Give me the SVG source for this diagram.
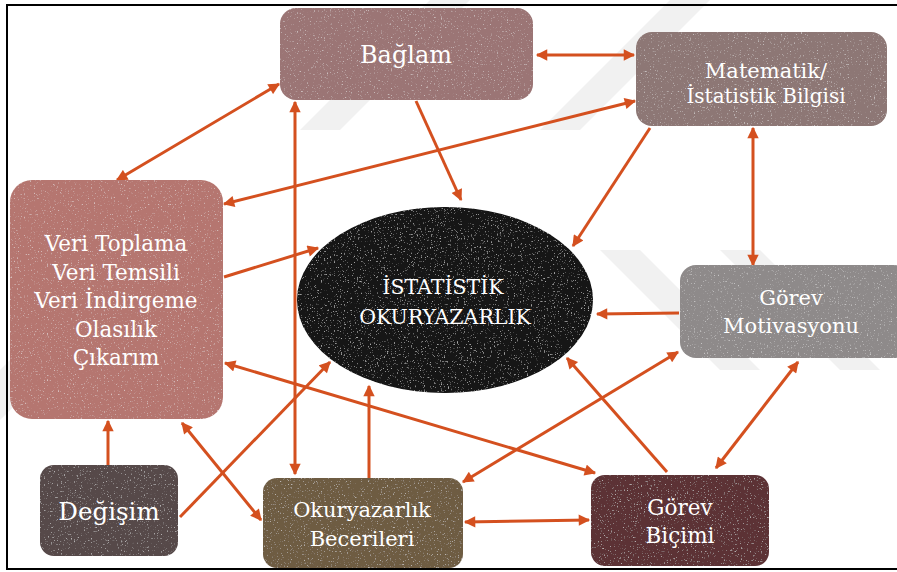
<svg xmlns="http://www.w3.org/2000/svg" width="897" height="572" viewBox="0 0 897 572">
<style>
.lbl{font-family:"DejaVu Serif",serif;fill:#ffffff;text-anchor:middle}
.cn{fill:none;stroke:#d4501f;stroke-width:3}
.wm{fill:#f1f1f1}
</style>
<defs>
<marker id="ah" viewBox="0 0 10 10" refX="9" refY="5" markerWidth="4.3" markerHeight="3.8" orient="auto-start-reverse" markerUnits="strokeWidth">
<path d="M0,0 L10,5 L0,10 z" fill="#d4501f"/>
</marker>
<filter id="tex" x="0" y="0" width="1" height="1">
<feTurbulence type="fractalNoise" baseFrequency="0.7" numOctaves="3" seed="4" result="n"/>
<feColorMatrix in="n" type="matrix" values="0 0 0 0 1  0 0 0 0 1  0 0 0 0 1  5 0 0 0 -3.2" result="sp"/>
<feComposite in="sp" in2="SourceGraphic" operator="in" result="sp2"/>
<feComponentTransfer in="sp2" result="sp3"><feFuncA type="linear" slope="0.4"/></feComponentTransfer>
<feMerge><feMergeNode in="SourceGraphic"/><feMergeNode in="sp3"/></feMerge>
</filter>
</defs>
<rect x="0" y="0" width="897" height="572" fill="#ffffff"/>
<g id="watermark">
<polygon class="wm" points="300,130 340,130 470,0 430,0"/>
<polygon class="wm" points="540,130 580,130 710,0 670,0"/>
<polygon class="wm" points="0,420 0,370 150,220 175,250"/>
<polygon class="wm" points="600,250 640,250 760,370 720,370"/>
<polygon class="wm" points="720,250 760,250 880,370 840,370"/>
</g>
<rect x="7" y="5" width="895" height="564" fill="none" stroke="#000000" stroke-width="2"/>
<g id="connectors">
<line class="cn" x1="537" y1="55" x2="634" y2="55" marker-start="url(#ah)" marker-end="url(#ah)"/>
<line class="cn" x1="279" y1="84" x2="117" y2="180" marker-start="url(#ah)" marker-end="url(#ah)"/>
<line class="cn" x1="635" y1="101" x2="224" y2="204" marker-start="url(#ah)" marker-end="url(#ah)"/>
<line class="cn" x1="416" y1="101" x2="461" y2="200" marker-end="url(#ah)"/>
<line class="cn" x1="650" y1="128" x2="573" y2="246" marker-end="url(#ah)"/>
<line class="cn" x1="753" y1="128" x2="753" y2="265" marker-start="url(#ah)" marker-end="url(#ah)"/>
<line class="cn" x1="679" y1="313" x2="597" y2="314" marker-end="url(#ah)"/>
<line class="cn" x1="224" y1="277" x2="318" y2="248" marker-end="url(#ah)"/>
<line class="cn" x1="295" y1="102" x2="295" y2="474" marker-start="url(#ah)" marker-end="url(#ah)"/>
<line class="cn" x1="369" y1="478" x2="369" y2="386" marker-end="url(#ah)"/>
<line class="cn" x1="180" y1="517" x2="330" y2="362" marker-end="url(#ah)"/>
<line class="cn" x1="108" y1="465" x2="108" y2="421" marker-end="url(#ah)"/>
<line class="cn" x1="182" y1="423" x2="261" y2="520" marker-start="url(#ah)" marker-end="url(#ah)"/>
<line class="cn" x1="595" y1="473" x2="225" y2="363" marker-start="url(#ah)" marker-end="url(#ah)"/>
<line class="cn" x1="678" y1="352" x2="463" y2="482" marker-start="url(#ah)" marker-end="url(#ah)"/>
<line class="cn" x1="667" y1="472" x2="567" y2="358" marker-end="url(#ah)"/>
<line class="cn" x1="798" y1="362" x2="716" y2="468" marker-start="url(#ah)" marker-end="url(#ah)"/>
<line class="cn" x1="465" y1="522" x2="589" y2="520" marker-start="url(#ah)" marker-end="url(#ah)"/>
</g>
<g id="baglam">
<rect x="280" y="8" width="253" height="92" rx="16" fill="#9b7575" filter="url(#tex)"/>
<text class="lbl" x="406" y="63" font-size="24">Bağlam</text>
</g>
<g id="matematik">
<rect x="636" y="32" width="251" height="94" rx="16" fill="#8d7774" filter="url(#tex)"/>
<text class="lbl" x="766" y="78" font-size="21">Matematik/</text>
<text class="lbl" x="766" y="103" font-size="20">İstatistik Bilgisi</text>
</g>
<g id="veri">
<rect x="10" y="180" width="213" height="239" rx="22" fill="#b5766f" filter="url(#tex)"/>
<text class="lbl" x="116" y="251" font-size="21.5">Veri Toplama</text>
<text class="lbl" x="116" y="280" font-size="21.5">Veri Temsili</text>
<text class="lbl" x="116" y="308" font-size="21.5">Veri İndirgeme</text>
<text class="lbl" x="116" y="337" font-size="21.5">Olasılık</text>
<text class="lbl" x="116" y="365" font-size="21.5">Çıkarım</text>
</g>
<g id="istatistik">
<ellipse cx="445" cy="300" rx="148" ry="93" fill="#121212" filter="url(#tex)"/>
<text class="lbl" x="443" y="294" font-size="20.5">İSTATİSTİK</text>
<text class="lbl" x="445" y="324" font-size="20.5">OKURYAZARLIK</text>
</g>
<g id="motivasyon">
<rect x="680" y="265" width="230" height="93" rx="16" fill="#8e8a8a" filter="url(#tex)"/>
<text class="lbl" x="791" y="305" font-size="21">Görev</text>
<text class="lbl" x="791" y="333" font-size="21">Motivasyonu</text>
</g>
<g id="degisim">
<rect x="40" y="465" width="138" height="91" rx="14" fill="#564848" filter="url(#tex)"/>
<text class="lbl" x="109" y="520" font-size="24.5">Değişim</text>
</g>
<g id="okuryazarlik">
<rect x="263" y="478" width="200" height="90" rx="14" fill="#6e5c43" filter="url(#tex)"/>
<text class="lbl" x="362" y="517" font-size="21">Okuryazarlık</text>
<text class="lbl" x="362" y="546" font-size="21">Becerileri</text>
</g>
<g id="bicim">
<rect x="591" y="475" width="178" height="91" rx="14" fill="#5b3034" filter="url(#tex)"/>
<text class="lbl" x="680" y="515" font-size="21.5">Görev</text>
<text class="lbl" x="680" y="543" font-size="21.5">Biçimi</text>
</g>
</svg>
